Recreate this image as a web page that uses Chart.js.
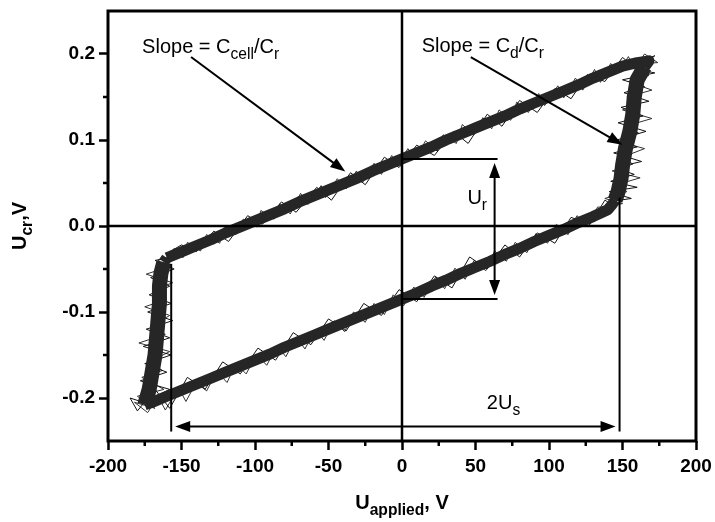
<!DOCTYPE html>
<html>
<head>
<meta charset="utf-8">
<script src="https://cdn.jsdelivr.net/npm/chart.js@4"></script>
<style>
  html, body { margin: 0; padding: 0; background: #fff; }
  #wrap { width: 715px; height: 522px; }
</style>
</head>
<body>
<div id="wrap"><canvas id="chart"></canvas></div>
<script>
// hysteresis loop centre line (U_applied in V, U_cr in V)
const loopX = [-160, -150, -140, -130, -120, -110, -100, -90, -80, -70, -60, -50, -40, -30, -20, -10, 0,
    10, 20, 30, 40, 50, 60, 70, 80, 90, 100, 110, 120, 130, 140, 150, 160, 168,
    165, 160, 158, 157, 155, 152, 150, 149, 147, 145, 143,
    140, 130, 120, 110, 100, 90, 80, 70, 60, 50, 40, 30, 20, 10, 0,
    -10, -20, -30, -40, -50, -60, -70, -80, -90, -100, -110, -120, -130, -140, -150, -160, -170, -175,
    -172, -170, -168, -167, -166, -165, -165, -164, -162, -160];
const loopY = [-0.037, -0.030, -0.023, -0.016, -0.008, -0.001, 0.006, 0.013, 0.020, 0.028, 0.035, 0.042, 0.049, 0.056, 0.064, 0.071, 0.078,
    0.085, 0.092, 0.100, 0.107, 0.114, 0.121, 0.128, 0.136, 0.143, 0.150, 0.157, 0.164, 0.172, 0.179, 0.186, 0.190, 0.192,
    0.185, 0.170, 0.150, 0.130, 0.110, 0.090, 0.070, 0.055, 0.040, 0.030, 0.025,
    0.019, 0.011, 0.004, -0.004, -0.011, -0.018, -0.026, -0.033, -0.041, -0.048, -0.055, -0.063, -0.070, -0.078, -0.085,
    -0.092, -0.099, -0.106, -0.113, -0.120, -0.127, -0.134, -0.141, -0.149, -0.156, -0.163, -0.170, -0.177, -0.184, -0.191, -0.198, -0.205, -0.208,
    -0.190, -0.170, -0.150, -0.130, -0.110, -0.090, -0.070, -0.055, -0.042, -0.037];

// noisy scribble of the recorded trace, first pass
const noiseX = [-158, -150, -140, -128, -118, -105, -95, -82, -72, -58, -48, -35, -25, -12, -2, 10, 22, 35, 45, 58, 68, 80, 92, 104, 115, 126, 138, 150, 160, 172,
    152, 172, 150, 165, 151, 168, 149, 164, 147, 166, 146, 160, 144, 163, 145, 158, 142, 160, 141, 156, 140,
    138, 128, 115, 104, 92, 80, 70, 58, 46, 34, 22, 10, -2, -14, -26, -38, -50, -62, -74, -86, -98, -110, -122, -134, -146, -158, -168, -180, -185,
    -176, -158, -178, -160, -175, -157, -176, -158, -174, -156, -173, -157, -172, -158, -171, -155, -168, -152];
const noiseY = [-0.030, -0.022, -0.030, -0.006, -0.018, 0.012, 0.002, 0.028, 0.016, 0.045, 0.030, 0.062, 0.048, 0.080, 0.068, 0.094, 0.082, 0.110, 0.096, 0.130, 0.116, 0.146, 0.132, 0.160, 0.148, 0.176, 0.168, 0.196, 0.182, 0.198,
    0.185, 0.178, 0.170, 0.162, 0.155, 0.145, 0.138, 0.128, 0.120, 0.110, 0.100, 0.092, 0.085, 0.075, 0.068, 0.060, 0.052, 0.045, 0.040, 0.032, 0.028,
    0.030, 0.002, 0.010, -0.020, -0.008, -0.036, -0.022, -0.050, -0.036, -0.072, -0.058, -0.088, -0.074, -0.104, -0.090, -0.122, -0.108, -0.138, -0.124, -0.156, -0.142, -0.172, -0.158, -0.190, -0.176, -0.212, -0.190, -0.215, -0.200,
    -0.205, -0.190, -0.180, -0.170, -0.160, -0.150, -0.140, -0.130, -0.120, -0.110, -0.100, -0.090, -0.080, -0.070, -0.060, -0.050, -0.040, -0.035];

// second pass of the scribble
const noise2X = [-162, -155, -149, -146, -137, -133, -124, -121, -113, -108, -99, -96, -87, -83, -76, -69, -64, -55, -52, -44, -38, -31, -27, -19, -14, -7, -3,
    4, 9, 16, 24, 28, 37, 41, 49, 55, 61, 66, 74, 78, 86, 93, 97, 106, 110, 118, 123, 131, 135, 142, 147, 154, 158, 165,
    174, 156, 168, 154, 170, 153, 162, 150, 170, 152, 161, 148, 165, 150, 157, 143, 162, 146, 153, 138, 150, 136,
    133, 127, 119, 113, 105, 99, 91, 85, 77, 71, 63, 57, 49, 43, 36, 29, 23, 15, 8, 1, -6, -12, -19, -25, -33, -39, -46, -53, -59, -66,
    -72, -79, -85, -92, -99, -106, -113, -119, -126, -133, -139, -147, -152, -161, -166, -173, -182,
    -168, -180, -162, -177, -163, -172, -158, -179, -161, -170, -158, -175, -160, -170, -156, -174, -160, -166, -155];
const noise2Y = [-0.045, -0.026, -0.037, -0.019, -0.029, -0.010, -0.020, -0.002, -0.010, 0.008, -0.001, 0.018, 0.008, 0.026, 0.014, 0.038, 0.025, 0.047, 0.033, 0.055, 0.043, 0.064, 0.050, 0.073, 0.060, 0.082, 0.069,
    0.090, 0.077, 0.099, 0.087, 0.106, 0.096, 0.118, 0.106, 0.126, 0.113, 0.135, 0.123, 0.144, 0.132, 0.154, 0.140, 0.163, 0.149, 0.172, 0.158, 0.182, 0.167, 0.189, 0.178, 0.197, 0.183, 0.200,
    0.190, 0.188, 0.175, 0.168, 0.158, 0.150, 0.142, 0.135, 0.125, 0.116, 0.108, 0.098, 0.090, 0.080, 0.072, 0.064, 0.056, 0.048, 0.040, 0.032, 0.026, 0.022,
    0.022, 0.000, 0.012, -0.010, 0.002, -0.020, -0.009, -0.031, -0.019, -0.041, -0.029, -0.052, -0.040, -0.062, -0.049, -0.073, -0.059, -0.083, -0.071, -0.093, -0.080, -0.103, -0.090, -0.112, -0.100, -0.123, -0.110, -0.133, -0.120, -0.143,
    -0.129, -0.152, -0.139, -0.162, -0.149, -0.172, -0.160, -0.182, -0.169, -0.192, -0.179, -0.204, -0.188, -0.214, -0.198, -0.217, -0.205,
    -0.212, -0.198, -0.190, -0.176, -0.168, -0.158, -0.146, -0.136, -0.126, -0.116, -0.104, -0.094, -0.085, -0.075, -0.066, -0.056, -0.048, -0.040, -0.034];

const xTicks = [-200, -150, -100, -50, 0, 50, 100, 150, 200];
const xMinor = [-175, -125, -75, -25, 25, 75, 125, 175];
const yTicks = [-0.2, -0.1, 0.0, 0.1, 0.2];
const yMinor = [-0.15, -0.05, 0.05, 0.15];

// annotations, in axis units
const ur = { x: 63, top: 0.078, bottom: -0.085, lineEnd: 65 };
const us = { left: -157, right: 148, y: -0.233, leftTop: -0.044, rightTop: 0.033, lineBottom: -0.239 };
const slopeArrows = [
    { from: [-143.5, 0.1965], to: [-38.6, 0.0633] },
    { from: [46.8, 0.1965], to: [149.9, 0.0946] }
];
const labels = [
    { x: -176.8, y: 0.2012, parts: [['Slope = C', 0], ['cell', 1], ['/C', 0], ['r', 1]] },
    { x: 13.4, y: 0.2023, parts: [['Slope = C', 0], ['d', 1], ['/C', 0], ['r', 1]] },
    { x: 44.5, y: 0.0251, parts: [['U', 0], ['r', 1]] },
    { x: 57.7, y: -0.2124, parts: [['2U', 0], ['s', 1]] }
];

const FONT = "'Liberation Sans', Arial, sans-serif";

function drawParts(ctx, parts, x, y, size, bold) {
    let w = bold ? 'bold ' : '';
    parts.forEach(function(p) {
        let s = p[1] ? size * 0.78 : size;
        ctx.font = w + s + 'px ' + FONT;
        ctx.fillText(p[0], x, y + (p[1] ? size * 0.3 : 0));
        x += ctx.measureText(p[0]).width;
    });
}

function partsWidth(ctx, parts, size, bold) {
    let w = 0;
    parts.forEach(function(p) {
        ctx.font = (bold ? 'bold ' : '') + (p[1] ? size * 0.78 : size) + 'px ' + FONT;
        w += ctx.measureText(p[0]).width;
    });
    return w;
}

function arrowHead(ctx, x1, y1, x2, y2) {
    let a = Math.atan2(y2 - y1, x2 - x1), len = 15, half = 5.5;
    ctx.beginPath();
    ctx.moveTo(x2, y2);
    ctx.lineTo(x2 - len * Math.cos(a) + half * Math.sin(a), y2 - len * Math.sin(a) - half * Math.cos(a));
    ctx.lineTo(x2 - len * Math.cos(a) - half * Math.sin(a), y2 - len * Math.sin(a) + half * Math.cos(a));
    ctx.closePath();
    ctx.fill();
}

function line(ctx, x1, y1, x2, y2) {
    ctx.beginPath();
    ctx.moveTo(x1, y1);
    ctx.lineTo(x2, y2);
    ctx.stroke();
}

const decorations = {
    id: 'decorations',
    afterDatasetsDraw(chart) {
        const ctx = chart.ctx, xs = chart.scales.x, ys = chart.scales.y, area = chart.chartArea;
        const px = v => xs.getPixelForValue(v), py = v => ys.getPixelForValue(v);
        ctx.save();
        ctx.strokeStyle = '#000';
        ctx.fillStyle = '#000';
        ctx.lineCap = 'butt';

        // zero lines
        ctx.lineWidth = 2.5;
        line(ctx, area.left, py(0), area.right, py(0));
        line(ctx, px(0), area.top, px(0), area.bottom);

        // frame
        ctx.lineWidth = 3;
        ctx.strokeRect(area.left, area.top, area.right - area.left, area.bottom - area.top);

        // minor ticks
        ctx.lineWidth = 2.5;
        xMinor.forEach(v => line(ctx, px(v), area.bottom, px(v), area.bottom + 5));
        yMinor.forEach(v => line(ctx, area.left, py(v), area.left - 5, py(v)));

        // U_r construction
        ctx.lineWidth = 2;
        line(ctx, px(0), py(ur.top), px(ur.lineEnd), py(ur.top));
        line(ctx, px(0), py(ur.bottom), px(ur.lineEnd), py(ur.bottom));
        let mid = (py(ur.top) + py(ur.bottom)) / 2;
        line(ctx, px(ur.x), mid, px(ur.x), py(ur.top) + 12);
        line(ctx, px(ur.x), mid, px(ur.x), py(ur.bottom) - 12);
        arrowHead(ctx, px(ur.x), mid, px(ur.x), py(ur.top) + 4);
        arrowHead(ctx, px(ur.x), mid, px(ur.x), py(ur.bottom) - 4);

        // 2U_s construction
        line(ctx, px(us.left), py(us.leftTop), px(us.left), py(us.lineBottom));
        line(ctx, px(us.right), py(us.rightTop), px(us.right), py(us.lineBottom));
        let cx = (px(us.left) + px(us.right)) / 2;
        line(ctx, px(us.left) + 14, py(us.y), px(us.right) - 14, py(us.y));
        arrowHead(ctx, cx, py(us.y), px(us.left) + 4, py(us.y));
        arrowHead(ctx, cx, py(us.y), px(us.right) - 4, py(us.y));

        // slope arrows
        slopeArrows.forEach(function(a) {
            let x1 = px(a.from[0]), y1 = py(a.from[1]), x2 = px(a.to[0]), y2 = py(a.to[1]);
            let ang = Math.atan2(y2 - y1, x2 - x1);
            line(ctx, x1, y1, x2 - 10 * Math.cos(ang), y2 - 10 * Math.sin(ang));
            arrowHead(ctx, x1, y1, x2, y2);
        });

        // labels
        ctx.textBaseline = 'alphabetic';
        ctx.textAlign = 'left';
        labels.forEach(l => drawParts(ctx, l.parts, px(l.x), py(l.y), 20, false));

        // axis titles
        let xt = [['U', 0], ['applied', 1], [', V', 0]];
        let w = partsWidth(ctx, xt, 20, true);
        drawParts(ctx, xt, (area.left + area.right) / 2 - w / 2, 509, 20, true);

        let yt = [['U', 0], ['cr', 1], [',V', 0]];
        w = partsWidth(ctx, yt, 20, true);
        ctx.translate(26, (area.top + area.bottom) / 2);
        ctx.rotate(-Math.PI / 2);
        drawParts(ctx, yt, -w / 2, 0, 20, true);
        ctx.restore();
    }
};

const pts = (xs, ys) => xs.map((x, i) => ({ x: x, y: ys[i] }));

new Chart(document.getElementById('chart'), {
    type: 'scatter',
    data: {
        datasets: [{
            label: 'band',
            data: pts(loopX, loopY),
            showLine: true,
            borderColor: '#262626',
            borderWidth: 11,
            // the switching edges of the loop are smeared wider than the slopes
            segment: {
                borderWidth: c => (Math.abs(c.p1.parsed.x - c.p0.parsed.x) < 6 && Math.abs(c.p1.parsed.y - c.p0.parsed.y) > 0.01) ? 15 : 11
            },
            pointRadius: 0,
            tension: 0,
            borderJoinStyle: 'round'
        }, {
            label: 'trace',
            data: pts(noiseX, noiseY),
            showLine: true,
            borderColor: '#111',
            borderWidth: 1,
            pointRadius: 0,
            tension: 0
        }, {
            label: 'trace 2',
            data: pts(noise2X, noise2Y),
            showLine: true,
            borderColor: '#333',
            borderWidth: 1,
            pointRadius: 0,
            tension: 0
        }]
    },
    options: {
        responsive: true,
        maintainAspectRatio: false,
        animation: false,
        events: [],
        layout: { padding: { left: 0, right: 19, top: 11, bottom: 0 } },
        plugins: { legend: { display: false }, tooltip: { enabled: false } },
        scales: {
            x: {
                type: 'linear',
                min: -200,
                max: 200,
                afterBuildTicks: s => { s.ticks = xTicks.map(v => ({ value: v })); },
                afterFit: s => { s.height = 81; s.paddingLeft = 0; s.paddingRight = 0; },
                ticks: { color: '#000', font: { family: FONT, size: 19, weight: 'bold' }, padding: 5, maxRotation: 0, autoSkip: false },
                grid: { drawOnChartArea: false, drawTicks: true, tickLength: 9, tickWidth: 2.5, tickColor: '#000' },
                border: { display: false }
            },
            y: {
                type: 'linear',
                min: -0.25,
                max: 0.25,
                afterBuildTicks: s => { s.ticks = yTicks.map(v => ({ value: v })); },
                afterFit: s => { s.width = 108; s.paddingTop = 0; s.paddingBottom = 0; },
                ticks: { color: '#000', font: { family: FONT, size: 19, weight: 'bold' }, padding: 4, callback: v => v.toFixed(1) },
                grid: { drawOnChartArea: false, drawTicks: true, tickLength: 9, tickWidth: 2.5, tickColor: '#000' },
                border: { display: false }
            }
        }
    },
    plugins: [decorations]
});
</script>
</body>
</html>
